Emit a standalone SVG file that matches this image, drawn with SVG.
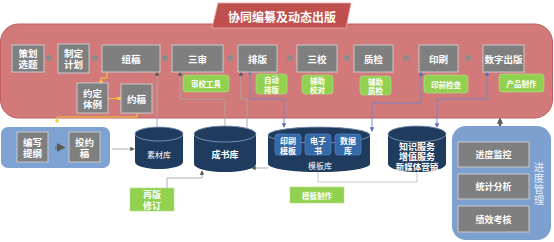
<svg xmlns="http://www.w3.org/2000/svg" width="554" height="242" viewBox="0 0 554 242">
<defs>
<style>
text{font-family:"Noto Sans CJK SC","Noto Sans",sans-serif;fill:#fff;text-anchor:middle;dominant-baseline:central}
.n{fill:#7f7f7f;stroke:#c9c9c9;stroke-width:1}
.nt{font-size:9.5px;font-weight:bold}
.g{fill:#92d050;stroke:#b5e08a;stroke-width:0.6}
.gt{font-size:7.5px;font-weight:bold}
.cyl{fill:#1f3b5e}
.cyltop{fill:#1f3b5e;stroke:#8fa3bf;stroke-width:0.8}
.bb{fill:#3669a8;stroke:#5b8ad0;stroke-width:0.6}
.bt{font-size:8px;font-weight:bold}
.c{fill:none;stroke:#a6a6a6;stroke-width:0.9}
.cb{fill:none;stroke:#6f86c6;stroke-width:0.9}
.cy{fill:none;stroke:#f5d130;stroke-width:0.9}
.dot{fill:#8c8c8c}
.vt{font-size:10.5px;fill:#e6eef8;writing-mode:vertical-rl;letter-spacing:0.5px;dominant-baseline:auto}
</style>
<marker id="ag" viewBox="0 0 6 6" refX="5" refY="3" markerWidth="5" markerHeight="5" orient="auto-start-reverse"><path d="M0,0L6,3L0,6z" fill="#595959"/></marker>
<marker id="ab" viewBox="0 0 6 6" refX="5" refY="3" markerWidth="5" markerHeight="5" orient="auto-start-reverse"><path d="M0,0L6,3L0,6z" fill="#4f6fb8"/></marker>
<marker id="ay" viewBox="0 0 6 6" refX="3" refY="3" markerWidth="4" markerHeight="4"><circle cx="3" cy="3" r="3" fill="#f5d130"/></marker>
<marker id="big" viewBox="0 0 10 10" refX="6" refY="5" markerWidth="2.6" markerHeight="2.6" orient="auto-start-reverse"><path d="M0,0L10,5L0,10z" fill="#595959"/></marker>
</defs>

<g id="band">
<rect x="0.5" y="24" width="552" height="94" rx="18" fill="#d27a7a" stroke="#c25e5e" stroke-width="1"/>
</g>
<g id="title">
<polygon points="218,3 351,3 346,28 212,28" fill="#c0504d" stroke="#e8a8a6" stroke-width="0.8"/>
<text x="282" y="16" style="font-size:12px;font-weight:bold">协同编纂及动态出版</text>
</g>

<g id="step-dots">
<circle class="dot" cx="49" cy="58" r="3"/>
<circle class="dot" cx="95" cy="58" r="3"/>
<circle class="dot" cx="165" cy="58" r="3"/>
<circle class="dot" cx="230" cy="58" r="3"/>
<circle class="dot" cx="290" cy="58" r="3"/>
<circle class="dot" cx="347" cy="58" r="3"/>
<circle class="dot" cx="406" cy="58" r="3"/>
<circle class="dot" cx="468" cy="58" r="3"/>
</g>

<g id="connectors">
<path class="c" d="M157,128V72" marker-end="url(#ag)"/>
<path class="c" d="M225,126V99H180V72" marker-end="url(#ag)"/>
<path class="c" d="M247,128V99H241V72" marker-end="url(#ag)"/>
<path class="cb" d="M250,73V99H284V127" marker-end="url(#ab)"/>
<circle cx="250" cy="73" r="1.5" fill="#4f6fb8"/>
<path class="cb" d="M421,72V103H372V131" marker-start="url(#ab)" marker-end="url(#ab)"/>
<path class="cb" d="M487,72V99H437V127" marker-start="url(#ab)" marker-end="url(#ab)"/>
<path class="c" d="M318,171V182H417V172" style="stroke:#c4c4c4"/>
<path class="c" d="M268,168H252" marker-end="url(#ag)"/>
<path class="c" d="M167,188V178H202V171" marker-end="url(#ag)"/>
<path class="c" d="M112,149H134" marker-end="url(#ag)"/>
<path class="cy" d="M107,72V78H101V82" marker-end="url(#ay)"/>
<path class="cy" d="M108,98.5H119" marker-end="url(#ay)"/>
<path class="cy" d="M137,113V117H57V121" marker-end="url(#ay)"/>
<path d="M500,120V134" stroke="#595959" stroke-width="2.4" fill="none" marker-start="url(#big)" marker-end="url(#big)"/>
</g>

<g id="n-cehua"><rect class="n" x="12" y="45" width="32" height="27"/><text class="nt" x="28" y="53">策划<tspan x="28" dy="11">选题</tspan></text></g>
<g id="n-zhiding"><rect class="n" x="58" y="44" width="31" height="29"/><text class="nt" x="73.5" y="53">制定<tspan x="73.5" dy="11">计划</tspan></text></g>
<g id="n-zugao"><rect class="n" x="102" y="45" width="58" height="27"/><text class="nt" x="131" y="58.5">组稿</text></g>
<g id="n-sanshen"><rect class="n" x="172" y="45" width="51" height="27"/><text class="nt" x="197.5" y="58.5">三审</text></g>
<g id="n-paiban"><rect class="n" x="238" y="45" width="39" height="27"/><text class="nt" x="257.5" y="58.5">排版</text></g>
<g id="n-sanjiao"><rect class="n" x="297" y="45" width="40" height="27"/><text class="nt" x="317" y="58.5">三校</text></g>
<g id="n-zhijian"><rect class="n" x="354" y="45" width="39" height="27"/><text class="nt" x="373.5" y="58.5">质检</text></g>
<g id="n-yinshua"><rect class="n" x="419" y="45" width="39" height="27"/><text class="nt" x="438.5" y="58.5">印刷</text></g>
<g id="n-shuzi"><rect class="n" x="483" y="45" width="41" height="27"/><text class="nt" x="503.5" y="58.5">数字出版</text></g>
<g id="n-yueding"><rect class="n" x="77" y="83" width="31" height="30"/><text class="nt" x="92.5" y="93">约定<tspan x="92.5" dy="11">体例</tspan></text></g>
<g id="n-yuegao"><rect class="n" x="121" y="84" width="31" height="29"/><text class="nt" x="136.5" y="98.5">约稿</text></g>

<g id="t-shenjiao"><rect class="g" x="183" y="75" width="46" height="17" rx="3"/><text class="gt" x="206" y="83.5">审校工具</text></g>
<g id="t-zidong"><rect class="g" x="256" y="74" width="31" height="20" rx="3"/><text class="gt" x="271.5" y="79.5">自动<tspan x="271.5" dy="9">排版</tspan></text></g>
<g id="t-jiaodui"><rect class="g" x="302" y="75" width="31" height="19" rx="3"/><text class="gt" x="317.5" y="80">辅助<tspan x="317.5" dy="9">校对</tspan></text></g>
<g id="t-zhijian"><rect class="g" x="360" y="76" width="31" height="19" rx="3"/><text class="gt" x="375.5" y="81">辅助<tspan x="375.5" dy="9">质检</tspan></text></g>
<g id="t-yinqian"><rect class="g" x="424" y="75" width="44" height="18" rx="3"/><text class="gt" x="446" y="84">印前检查</text></g>
<g id="t-chanpin"><rect class="g" x="499" y="74" width="45" height="18" rx="3"/><text class="gt" x="521.5" y="83">产品制作</text></g>

<g id="author-panel">
<rect x="1" y="127" width="109" height="41" rx="7" fill="#7ea2d2"/>
<path d="M55,147.5H62" stroke="#7f7f7f" stroke-width="3.5" marker-end="url(#big)"/>
</g>
<g id="n-bianxie"><rect class="n" x="17" y="132" width="31" height="30"/><text class="nt" x="32.5" y="142">编写<tspan x="32.5" dy="11">提纲</tspan></text></g>
<g id="n-tougao"><rect class="n" x="69" y="132" width="31" height="30"/><text class="nt" x="84.5" y="142">投约<tspan x="84.5" dy="11">稿</tspan></text></g>

<g id="db-sucai">
<path class="cyl" d="M135,134A24,7 0 0 1 183,134V162A24,7 0 0 1 135,162Z"/>
<ellipse class="cyltop" cx="159" cy="134" rx="24" ry="7"/>
<text x="159" y="154" style="font-size:8px">素材库</text>
</g>
<g id="db-chengshu">
<path class="cyl" d="M194,134A31,8 0 0 1 256,134V164A31,8 0 0 1 194,164Z"/>
<ellipse class="cyltop" cx="225" cy="134" rx="31" ry="8"/>
<text x="225" y="154" style="font-size:9px;font-weight:bold">成书库</text>
</g>
<g id="db-muban">
<path class="cyl" d="M268,135A51,8 0 0 1 370,135V164A51,8 0 0 1 268,164Z"/>
<ellipse class="cyltop" cx="319" cy="135" rx="51" ry="8"/>
<rect class="bb" x="275" y="134" width="26" height="21" rx="3"/><text class="bt" x="288" y="140">印刷<tspan x="288" dy="9.5">模板</tspan></text>
<rect class="bb" x="305" y="134" width="26" height="21" rx="3"/><text class="bt" x="318" y="140">电子<tspan x="318" dy="9.5">书</tspan></text>
<rect class="bb" x="335" y="134" width="26" height="21" rx="3"/><text class="bt" x="348" y="140">数据<tspan x="348" dy="9.5">库</tspan></text>
<text x="320" y="165" style="font-size:8px">模板库</text>
</g>
<g id="db-zhishi">
<path class="cyl" d="M388,134A29,8 0 0 1 446,134V164A29,8 0 0 1 388,164Z"/>
<ellipse class="cyltop" cx="417" cy="134" rx="29" ry="8"/>
<text x="417" y="146" style="font-size:9px;font-weight:bold">知识服务<tspan x="417" dy="10">增值服务</tspan><tspan x="417" dy="10" style="font-size:8.5px">新媒体营销</tspan></text>
</g>

<g id="t-zaiban"><rect class="g" x="130" y="188" width="44" height="23"/><text class="nt" x="152" y="194.5" style="font-size:9px">再版<tspan x="152" dy="10">修订</tspan></text></g>
<g id="t-mubanzhizuo"><rect class="g" x="290" y="187" width="54" height="16"/><text class="gt" x="317" y="195">模板制作</text></g>

<g id="progress-panel">
<rect x="452" y="126" width="99" height="114" rx="14" fill="#7da0cf"/>
<text class="vt" x="539" y="183.5">进度管理</text>
</g>
<g id="n-jiankong"><rect class="n" x="458" y="142" width="71" height="25"/><text class="nt" x="493.5" y="154.5" style="font-size:9px">进度监控</text></g>
<g id="n-tongji"><rect class="n" x="458" y="174" width="71" height="25"/><text class="nt" x="493.5" y="186.5" style="font-size:9px">统计分析</text></g>
<g id="n-jixiao"><rect class="n" x="458" y="206" width="71" height="26"/><text class="nt" x="493.5" y="219" style="font-size:9px">绩效考核</text></g>
</svg>
